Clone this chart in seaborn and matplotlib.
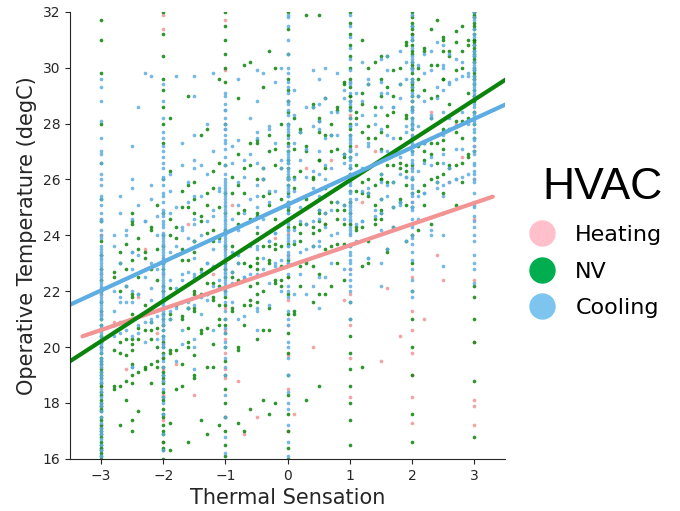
import numpy as np
import pandas as pd
import matplotlib
matplotlib.use("Agg")
import matplotlib.pyplot as plt
import seaborn as sns
from matplotlib.lines import Line2D

# -------------------------------------------------
# Data
# -------------------------------------------------
levels = ["Heating", "NV", "Cooling"]
col_x = [-3, -2, -1, 0, 1, 2, 3]

# Heating: values in the integer columns, then the in-between votes
heat_col_y = [
    [16.4, 17.2, 17.9, 18.6, 19.3, 20.0, 20.6, 21.2, 21.9, 22.6, 23.3, 24.0, 24.6],
    [16.6, 17.4, 18.3, 18.8, 19.2, 19.6, 20.1, 20.8, 21.4, 22.0, 22.6, 23.2, 31.4, 31.9],
    [17.5, 18.9, 19.2, 19.8, 20.3, 20.6, 21.4, 22.1, 22.8, 23.5, 24.2, 29.9, 31.7],
    [17.0, 18.5, 19.7, 20.8, 21.7, 22.5, 23.3, 24.1, 25.0, 26.0, 27.2, 28.8],
    [18.2, 19.6, 20.8, 21.9, 22.8, 23.6, 24.4, 25.2, 26.1, 27.1, 28.3, 29.5],
    [17.3, 18.2, 19.0, 19.8, 20.6, 21.3, 22.5, 24.0, 25.2, 26.4, 27.6, 28.8, 30.0, 31.2, 31.9],
    [17.2, 17.9, 18.1, 20.2, 22.4, 24.6, 26.0, 27.2, 28.4, 29.0, 29.6, 30.2, 30.8, 31.8],
]
heat_sx = [-2.8, -2.6, -2.4, -2.3, -2.1, -1.8, -1.6, -1.5, -1.2, -0.9, -0.8, -0.7,
           -0.5, -0.4, -0.2, 0.1, 0.3, 0.4, 0.6, 0.7, 0.9, 1.1, 1.2, 1.4, 1.5, 1.6,
           1.8, 2.2, 2.3, 2.4, 2.5, 2.6, 2.7, 2.8]
heat_sy = [[20.9], [19.2], [21.8], [23.5], [20.5], [19.4], [24.4], [18.3], [22.6], [25.1],
           [18.8], [16.9], [17.5], [26.0], [23.9], [17.6], [26.4], [20.0], [24.4], [26.7],
           [21.7], [27.2], [25.2], [27.0], [19.5], [22.1], [20.4], [21.0], [28.4], [23.3],
           [22.4], [25.9], [28.0], [26.8]]

# NV
nv_col_y = [
    [16.0, 16.1, 16.2, 16.3, 16.4, 16.5, 16.6, 16.8, 16.9, 17.0, 17.1, 17.2, 17.4, 17.5,
     17.7, 17.8, 17.9, 18.0, 18.1, 18.3, 18.4, 18.6, 18.7, 18.9, 19.0, 19.1, 19.2, 19.4,
     19.5, 19.6, 19.8, 20.0, 20.2, 20.4, 20.6, 20.8, 21.0, 21.3, 21.6, 22.0, 22.4, 22.8,
     23.3, 23.8, 24.5, 25.3, 26.6, 28.0, 29.8, 31.0, 31.7],
    [32.0, 31.2, 30.4, 29.6, 29.2, 28.6, 28.0, 27.3, 26.0, 24.8, 24.0, 23.6, 23.0, 22.8,
     22.2, 22.0, 21.7, 21.4, 21.2, 21.0, 20.8, 20.6, 20.4, 20.2, 20.0, 19.8, 19.6, 19.3,
     19.1, 19.0, 18.9, 18.7, 18.4, 18.2, 18.1, 17.8, 17.6, 17.5, 17.2, 17.0, 16.9, 16.6,
     16.4, 16.3, 16.0],
    [32.0, 31.5, 31.0, 30.5, 30.0, 29.5, 28.0, 26.5, 25.5, 24.8, 24.2, 23.6, 23.0, 22.8,
     22.5, 22.0, 21.8, 21.5, 21.0, 20.8, 20.5, 20.0, 19.5, 19.0, 18.5, 18.0, 17.5, 17.0,
     16.5, 16.1],
    [16.0, 16.4, 17.0, 17.6, 18.3, 19.0, 19.8, 20.5, 21.2, 21.9, 22.5, 23.1, 23.7, 24.3,
     24.6, 24.9, 25.0, 25.2, 25.5, 25.8, 26.0, 26.1, 26.4, 26.7, 27.0, 27.3, 27.6, 28.0,
     28.4, 28.8, 29.2, 29.6, 30.5, 31.4, 32.0],
    [32.0, 31.6, 31.2, 30.8, 30.4, 30.0, 29.6, 29.3, 29.0, 29.0, 28.8, 28.6, 28.5, 28.2,
     28.0, 27.8, 27.6, 27.2, 27.0, 26.8, 26.4, 26.2, 26.0, 25.6, 25.2, 24.8, 24.4, 21.6,
     21.0, 20.4, 19.8, 19.2, 18.6, 18.0, 17.4, 16.5],
    [32.0, 31.8, 31.6, 31.5, 31.4, 31.2, 31.0, 30.8, 30.6, 30.5, 30.2, 30.1, 30.0, 29.8,
     29.6, 29.5, 29.4, 29.3, 29.2, 29.0, 28.8, 28.6, 28.5, 28.2, 28.0, 27.8, 27.5, 27.2,
     27.0, 26.5, 26.0, 25.5, 25.0, 24.0, 23.0, 22.0, 21.0, 20.0, 19.0, 17.6, 16.6],
    [32.0, 32.0, 31.9, 31.8, 31.6, 31.5, 31.4, 31.2, 31.0, 31.0, 30.9, 30.8, 30.7, 30.6,
     30.5, 30.4, 30.3, 30.2, 30.0, 29.9, 29.8, 29.7, 29.6, 29.4, 29.2, 29.0, 28.8, 28.4,
     28.0, 27.5, 27.0, 22.2, 21.8, 21.0, 20.2, 18.8, 16.8],
]
nv_sx = [-2.8, -2.7, -2.6, -2.5, -2.4, -2.3, -2.2, -2.1, -1.9, -1.8, -1.7, -1.6, -1.5,
         -1.4, -1.3, -1.2, -1.1, -0.9, -0.8, -0.7, -0.6, -0.5, -0.4, -0.3, -0.2, -0.1,
         0.1, 0.2, 0.3, 0.4, 0.5, 0.6, 0.7, 0.8, 0.9, 1.1, 1.2, 1.3, 1.4, 1.5, 1.6, 1.7,
         1.8, 1.9, 2.1, 2.2, 2.3, 2.4, 2.5, 2.6, 2.7, 2.8, 2.9]
nv_sy = [
    [20.8, 18.6, 22.7, 19.9, 22.5, 18.5],
    [23.0, 20.2, 17.2, 22.0, 23.4, 19.8, 18.6],
    [22.2, 19.7, 23.7, 18.1, 20.3, 22.8, 18.8],
    [20.1, 21.8, 18.7, 24.5, 19.4, 21.2, 19.0, 23.1, 20.3, 17.0, 24.8, 21.9, 19.9, 24.4, 17.4],
    [23.5, 20.7, 17.7, 22.5, 23.9, 20.3, 19.1],
    [21.5, 19.3, 23.4, 20.6, 23.2, 19.2],
    [22.8, 20.3, 24.3, 18.7, 20.9, 24.2, 20.6, 19.4],
    [20.7, 22.4, 19.3, 25.1, 20.0, 23.5, 19.5],
    [22.1, 19.9, 24.0, 21.2, 17.3, 26.3, 24.6, 21.0, 19.8, 28.2, 16.3],
    [24.3, 21.5, 18.5, 23.3, 23.9, 19.9],
    [23.5, 21.0, 25.0, 19.4, 21.6, 23.1, 21.1, 25.6, 18.6],
    [21.4, 23.1, 20.0, 25.8, 20.7, 25.0, 21.4, 20.2, 29.0, 16.6],
    [23.8, 21.3, 25.3, 19.7, 21.9, 24.8, 22.0, 19.0, 23.8, 23.4, 21.4, 25.9, 18.9],
    [22.8, 20.6, 24.7, 21.9, 17.4, 27.6, 24.5, 20.5],
    [25.1, 22.3, 19.3, 24.1, 25.5, 21.9, 20.7, 27.8, 16.9],
    [24.2, 21.7, 25.7, 20.1, 22.3, 23.8, 21.8, 26.3, 19.3],
    [22.2, 23.9, 20.8, 26.6, 21.5, 25.0, 21.0, 29.6, 17.2],
    [23.6, 21.4, 25.5, 22.7, 26.1, 22.5, 21.3],
    [25.8, 23.0, 20.0, 24.8, 24.4, 22.4, 26.9, 19.9, 28.9, 17.3],
    [24.9, 22.4, 26.4, 20.8, 23.0, 17.0, 30.1, 25.5, 21.5],
    [22.9, 24.6, 21.5, 27.3, 22.2, 26.5, 22.9, 21.7, 30.2, 17.8],
    [23.0, 24.7, 21.6, 27.4, 22.3, 24.1, 21.9, 26.0, 23.2, 24.8, 22.8, 27.3, 20.3],
    [26.4, 23.6, 20.6, 25.4, 26.0, 22.0, 29.3, 18.1],
    [25.5, 23.0, 27.0, 21.4, 23.6, 17.6, 30.6, 25.1, 23.1, 27.6, 20.6],
    [24.6, 22.4, 26.5, 23.7, 27.1, 23.5, 22.3, 30.0, 18.0],
    [23.6, 25.3, 22.2, 28.0, 22.9, 26.4, 22.4],
    [27.1, 24.3, 21.3, 26.1, 25.7, 23.7, 28.2, 21.2],
    [26.3, 23.8, 27.8, 22.2, 24.4, 27.7, 24.1, 22.9],
    [25.3, 23.1, 27.2, 24.4, 18.1, 31.9, 27.0, 23.0],
    [24.3, 26.0, 22.9, 28.7, 23.6, 26.1, 24.1, 28.6, 21.6],
    [26.7, 24.2, 28.2, 22.6, 24.8, 27.7, 24.9, 21.9, 26.7, 18.6, 31.9, 28.1, 24.5, 23.3],
    [25.7, 23.5, 27.6, 24.8, 26.4, 24.4, 28.9, 21.9],
    [28.0, 25.2, 22.2, 27.0, 27.6, 23.6],
    [27.1, 24.6, 28.6, 23.0, 25.2, 28.5, 24.9, 23.7],
    [25.1, 26.8, 23.7, 29.5, 24.4, 26.9, 24.9, 29.4, 22.4],
    [26.5, 24.3, 28.4, 25.6, 28.2, 24.2],
    [28.7, 25.9, 22.9, 27.7, 19.3, 31.0, 29.1, 25.5, 24.3],
    [27.9, 25.4, 29.4, 23.8, 26.0, 27.5, 25.5, 30.0, 23.0],
    [25.8, 27.5, 24.4, 30.2, 25.1, 28.6, 24.6],
    [26.0, 27.7, 24.6, 30.4, 25.3, 27.1, 24.9, 29.0, 26.2, 29.6, 26.0, 24.8],
    [29.3, 26.5, 23.5, 28.3, 27.9, 25.9, 30.4, 23.4],
    [28.4, 25.9, 29.9, 24.3, 26.5, 29.0, 25.0],
    [27.5, 25.3, 29.4, 26.6, 30.0, 26.4, 25.2],
    [26.5, 28.2, 25.1, 30.9, 25.8, 28.3, 26.3, 30.8, 23.8],
    [30.0, 27.2, 24.2, 29.0, 29.6, 25.6],
    [29.2, 26.7, 30.7, 25.1, 27.3, 30.6, 27.0, 25.8],
    [28.2, 26.0, 30.1, 27.3, 28.9, 26.9, 31.4, 24.4],
    [27.3, 29.0, 25.9, 31.7, 26.6, 30.1, 26.1],
    [29.6, 27.1, 31.1, 25.5, 27.7, 30.6, 27.8, 24.8, 29.6, 31.0, 27.4, 26.2],
    [28.7, 26.5, 30.6, 27.8, 30.4, 26.4],
    [30.9, 28.1, 25.1, 29.9, 31.3, 27.7, 26.5],
    [30.0, 27.5, 31.5, 25.9, 28.1, 30.6, 26.6],
    [29.1, 26.9, 31.0, 28.2, 30.8, 26.8],
]

# Cooling
cool_col_y = [
    [16.1, 16.5, 16.9, 17.0, 17.3, 17.5, 17.7, 18.0, 18.2, 18.4, 18.7, 18.9, 19.0, 19.3,
     19.5, 19.6, 19.8, 20.0, 20.2, 20.3, 20.4, 20.6, 20.8, 21.0, 21.2, 21.4, 21.6, 21.8,
     22.0, 22.2, 22.4, 22.6, 22.8, 23.0, 23.2, 23.4, 23.6, 23.9, 24.2, 24.5, 24.8, 25.1,
     25.4, 25.8, 26.2, 26.6, 27.0, 27.5, 28.1, 28.8, 29.3, 29.6,
     19.1, 19.9, 20.5, 21.1, 20.1, 20.7, 21.3, 21.5, 21.7, 21.9, 22.1, 22.3, 22.5, 22.7,
     22.9, 23.1, 23.3, 23.5, 18.5, 17.9, 17.1, 16.3, 24.0, 24.6, 25.3, 26.0, 26.9, 16.7,
     18.8, 19.4],
    [16.3, 16.9, 17.6, 18.2, 18.8, 19.3, 19.7, 20.0, 20.3, 20.6, 20.9, 21.1, 21.3, 21.5,
     21.7, 21.9, 22.1, 22.3, 22.5, 22.7, 22.9, 23.1, 23.3, 23.5, 23.7, 23.9, 24.1, 24.3,
     24.5, 24.7, 24.9, 25.2, 25.5, 25.8, 26.1, 26.4, 26.8, 27.2, 27.7, 28.2, 28.8, 29.4,
     19.0, 19.5, 20.1, 20.4, 20.8, 21.0, 21.2, 21.4, 21.6, 21.8, 22.0, 22.2, 22.4, 22.6,
     22.8, 23.0, 23.2, 23.4, 23.6, 23.8, 24.0, 24.4, 24.8, 25.4, 26.0, 26.6, 27.0, 18.0,
     18.5, 27.5],
    [16.2, 16.8, 17.5, 18.3, 19.0, 19.6, 20.2, 20.7, 21.0, 21.3, 21.6, 21.9, 22.1, 22.3,
     22.5, 22.7, 22.9, 23.1, 23.3, 23.5, 23.7, 23.9, 24.1, 24.3, 24.5, 24.7, 24.9, 25.1,
     25.3, 25.5, 25.7, 25.9, 26.0, 26.2, 26.5, 26.8, 27.1, 27.4, 27.6, 27.8, 28.0, 28.2,
     28.5, 28.7, 29.0, 29.1,
     22.0, 22.2, 22.4, 22.6, 22.8, 23.0, 23.2, 23.4, 23.6, 23.8, 24.0, 24.2, 24.4, 24.6,
     24.8, 25.0, 25.2, 25.4, 25.6, 25.8, 19.3, 28.5, 20.0, 27.8, 20.5, 27.3],
    [16.1, 16.6, 17.2, 17.8, 18.4, 19.0, 19.6, 20.2, 20.8, 21.3, 21.8, 22.2, 22.6, 23.0,
     23.3, 23.6, 23.9, 24.2, 24.5, 24.8, 25.1, 25.4, 25.7, 26.0, 26.1, 26.3, 26.6, 26.7,
     26.9, 27.0, 27.2, 27.5, 27.7, 27.9, 28.0, 28.3, 28.5, 28.7, 29.1, 29.3, 29.5, 30.0,
     30.5, 31.0, 31.5, 31.9,
     23.0, 23.2, 23.4, 23.6, 23.8, 24.0, 24.2, 24.4, 24.6, 24.8, 25.0, 25.2, 25.4, 25.6,
     25.8, 26.0, 26.2, 26.4, 26.6, 26.8, 21.0, 28.8, 22.0, 27.8, 20.0, 29.8, 18.0, 31.8],
    [21.0, 21.6, 22.0, 22.2, 22.4, 22.8, 23.0, 23.1, 23.4, 23.6, 23.7, 24.0, 24.2, 24.3,
     24.6, 24.8, 24.9, 25.0, 25.2, 25.5, 25.8, 26.1, 26.4, 26.7, 27.0, 27.3, 27.6, 27.9,
     28.2, 28.5, 28.8, 29.1, 29.5, 29.9, 30.3, 30.7, 31.1, 31.5, 31.9,
     24.1, 24.5, 24.7, 25.1, 25.3, 25.6, 25.9, 26.0, 26.2, 26.5, 26.8, 27.1, 27.4, 27.5,
     27.9, 22.6, 29.4, 23.3, 28.7],
    [21.8, 22.0, 22.4, 22.8, 23.1, 23.4, 23.7, 24.0, 24.3, 24.6, 24.9, 25.2, 25.5, 25.8,
     26.1, 26.4, 26.7, 27.0, 27.3, 27.6, 27.9, 28.0, 28.2, 28.4, 28.5, 28.8, 29.0, 29.1,
     29.5, 29.6, 29.9, 30.0, 30.3, 30.4, 30.7, 31.0, 31.1, 31.5, 31.9,
     25.0, 25.4, 25.7, 26.0, 26.3, 26.6, 26.9, 27.2, 27.5, 27.8, 28.1, 28.6, 29.3, 23.9,
     30.2, 24.4, 25.0],
    [22.3, 22.8, 23.3, 23.8, 24.3, 24.7, 25.1, 25.5, 25.9, 26.3, 26.6, 26.9, 27.2, 27.5,
     27.8, 28.1, 28.4, 28.7, 29.0, 29.2, 29.3, 29.5, 29.6, 29.9, 30.0, 30.2, 30.5, 30.6,
     30.8, 31.1, 31.2, 31.4, 31.7, 31.8, 32.0,
     26.0, 26.5, 27.0, 27.4, 27.7, 28.0, 28.3, 28.6, 28.9, 29.1, 29.4, 29.7, 30.1, 30.4,
     24.5, 23.0, 24.0, 25.0, 26.2],
]
cool_sx = nv_sx
cool_sy = [
    [22.0, 21.3, 23.6, 24.0, 20.4],
    [21.8, 23.0, 25.4, 20.9, 24.8, 21.6, 20.5],
    [22.2, 24.0, 21.6, 24.2, 20.6],
    [21.0, 22.0, 22.8, 23.4, 24.6, 26.0, 19.3, 20.4, 27.2, 23.4, 21.6, 25.7, 19.3],
    [23.3, 21.9, 28.6, 20.5, 25.1, 21.9, 20.8],
    [22.5, 24.5, 29.8, 21.2, 20.2, 24.5, 20.9],
    [23.0, 29.7, 21.7, 25.8, 20.9, 25.3, 22.1, 21.0],
    [22.8, 24.0, 20.3, 24.7, 21.1],
    [23.4, 26.2, 21.0, 24.8, 25.6, 22.4, 21.3],
    [23.6, 29.7, 22.1, 19.5, 25.0, 21.4],
    [24.3, 22.6, 27.3, 20.6, 24.2, 22.4, 26.5, 20.1],
    [23.9, 25.2, 21.4, 25.9, 22.7, 21.6],
    [20.0, 21.5, 22.5, 23.2, 23.8, 24.6, 25.4, 26.4, 27.6, 29.0, 29.7, 19.2, 24.4, 22.6,
     26.7, 20.3],
    [24.0, 22.7, 26.5, 21.2, 25.4, 21.8],
    [24.5, 23.0, 28.0, 21.7, 26.2, 23.0, 21.9],
    [24.9, 22.2, 29.8, 23.5, 24.7, 22.9, 27.0, 20.6],
    [23.8, 25.6, 22.4, 25.7, 22.1],
    [24.6, 27.2, 22.7, 21.6, 26.6, 23.4, 22.3],
    [24.2, 25.9, 23.0, 29.6, 25.1, 23.3, 27.4, 21.0],
    [24.8, 22.5, 26.7, 21.1, 26.1, 22.5],
    [25.3, 23.6, 28.2, 26.9, 23.7, 22.6],
    [21.4, 22.6, 23.5, 24.3, 25.0, 25.8, 26.6, 27.5, 28.8, 29.9, 20.6, 25.4, 23.6, 27.7,
     21.3],
    [24.6, 26.0, 23.2, 29.8, 26.4, 22.8],
    [25.2, 23.8, 27.8, 22.3, 25.6, 23.8, 27.9, 21.5],
    [25.6, 24.1, 29.5, 22.9, 27.3, 24.1, 23.0],
    [24.4, 26.4, 22.0, 30.0, 26.7, 23.1],
    [25.6, 27.3, 23.8, 29.2, 26.0, 24.2, 28.3, 21.9],
    [25.0, 26.7, 22.6, 27.7, 24.5, 23.4],
    [26.1, 24.4, 28.6, 21.9, 27.1, 23.5],
    [25.7, 27.9, 23.6, 29.9, 26.3, 24.5, 28.6, 22.2],
    [22.5, 23.6, 24.6, 25.4, 26.2, 27.0, 27.8, 28.7, 29.6, 21.4, 28.1, 24.9, 23.8],
    [26.0, 27.5, 24.3, 30.0, 26.5, 24.8, 28.9, 22.5],
    [26.4, 24.9, 28.4, 23.0, 27.6, 24.0],
    [25.7, 27.6, 29.8, 23.5, 28.4, 25.2, 24.1],
    [26.6, 24.6, 28.9, 26.9, 25.1, 29.2, 22.8],
    [26.9, 25.3, 29.1, 23.8, 28.0, 24.4],
    [26.4, 28.3, 24.5, 30.2, 28.8, 25.6, 24.5],
    [27.2, 25.7, 29.4, 23.2, 27.3, 25.5, 29.6, 23.2],
    [26.6, 28.0, 24.9, 28.3, 24.7],
    [23.0, 24.2, 25.3, 26.2, 27.0, 27.8, 28.6, 29.5, 30.3, 22.2, 29.1, 25.9, 24.8],
    [27.0, 29.1, 25.4, 30.4, 27.6, 25.8, 29.9, 23.5],
    [27.5, 25.9, 28.6, 24.3, 28.6, 25.0],
    [26.8, 28.9, 25.2, 30.6, 29.4, 26.2, 25.1],
    [27.7, 26.1, 29.6, 27.9, 26.1, 30.2, 23.8],
    [27.9, 26.3, 30.1, 24.6, 29.0, 25.4],
    [27.3, 28.8, 25.5, 30.5, 29.8, 26.6, 25.5],
    [28.2, 26.8, 29.9, 24.0, 28.3, 26.5, 30.6, 24.2],
    [27.6, 28.9, 25.9, 30.9, 29.3, 25.7],
    [24.0, 25.4, 26.6, 27.6, 28.4, 29.2, 30.0, 30.8, 22.9, 30.1, 26.9, 25.8],
    [28.2, 29.4, 26.4, 30.5, 29.5, 25.9],
    [27.9, 29.6, 26.0, 30.3, 27.1, 26.0],
    [28.4, 30.2, 27.1, 29.7, 26.1],
    [28.0, 29.7, 29.8, 26.2],
]

scatter_colors = {"Heating": "#F29494", "NV": "#0A840A", "Cooling": "#5DADE2"}
legend_colors = ["#FFC0CB", "#00AE50", "#7DC5EF"]


def build(label, col_y, sx, sy):
    rows = []
    for x, ys in zip(col_x + sx, col_y + sy):
        rows += [(x, y) for y in ys]
    d = pd.DataFrame(rows, columns=["Thermal Sensation", "Operative Temperature (degC)"])
    d["HVAC"] = label
    return d


df = pd.concat([
    build("Heating", heat_col_y, heat_sx, heat_sy),
    build("NV", nv_col_y, nv_sx, nv_sy),
    build("Cooling", cool_col_y, cool_sx, cool_sy),
], ignore_index=True)

# -------------------------------------------------
# Plot
# -------------------------------------------------
sns.set_style("ticks")

fig = plt.figure(figsize=(6.8, 5.11), dpi=100)
ax = fig.add_axes([0.103, 0.102, 0.64, 0.875])

for lab in levels:
    sns.regplot(data=df[df["HVAC"] == lab], x="Thermal Sensation",
                y="Operative Temperature (degC)", ax=ax, truncate=False, ci=None,
                color=scatter_colors[lab],
                scatter_kws=dict(s=7, linewidths=0, alpha=0.85),
                line_kws=dict(lw=3))
    if lab == "Heating":
        # later fits run past the final view
        ax.set_xlim(-3.7, 3.7)

ax.set_xlim(-3.5, 3.5)
ax.set_ylim(16, 32)
ax.set_xticks(col_x)
ax.set_yticks(range(16, 33, 2))
ax.set_xlabel("Thermal Sensation", fontsize=15)
ax.set_ylabel("Operative Temperature (degC)", fontsize=15)
sns.despine(ax=ax)

handles = [Line2D([], [], marker="o", ls="", color=c, markersize=18) for c in legend_colors]
leg = fig.legend(handles, levels, title="HVAC", loc="center left",
                 bbox_to_anchor=(0.748, 0.525), frameon=False, fontsize=16,
                 title_fontproperties={"family": "Liberation Sans", "size": 32},
                 handlelength=1.2, handletextpad=0.9, labelspacing=0.75,
                 alignment="right")
leg.get_title().set_color("black")
for t in leg.get_texts():
    t.set_color("black")

fig.savefig("out.png", dpi=100)
